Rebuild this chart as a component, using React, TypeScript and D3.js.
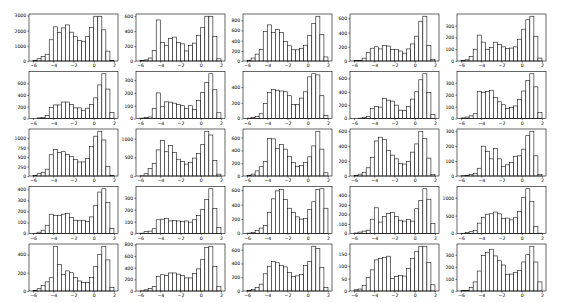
import { useEffect, useRef } from "react";
import * as d3 from "d3";

// histogram bins: 20 bins of width 0.4 starting at -6
const binStart = -6;
const binWidth = 0.4;
const xTicks = [-6, -4, -2, 0, 2];

// counts per panel, row by row
const row0 = [
  [30, 150, 300, 450, 1400, 2250, 1880, 2180, 2380, 1900, 1600, 1350, 1270, 1600, 2200, 2950, 2950, 2050, 650, 30],
  [5, 15, 40, 140, 550, 250, 205, 300, 320, 250, 230, 135, 210, 240, 345, 450, 600, 600, 330, 30],
  [15, 58, 135, 230, 580, 710, 560, 620, 560, 380, 300, 220, 220, 250, 310, 500, 740, 880, 520, 80],
  [5, 5, 40, 120, 180, 200, 170, 220, 210, 160, 160, 140, 110, 170, 240, 350, 560, 630, 220, 20],
  [5, 10, 40, 100, 220, 160, 100, 115, 160, 140, 120, 105, 110, 120, 185, 270, 350, 380, 210, 25],
];
const row1 = [
  [0, 10, 20, 50, 190, 230, 230, 280, 280, 240, 180, 180, 140, 175, 240, 350, 570, 760, 500, 100],
  [3, 8, 12, 80, 200, 92, 130, 128, 120, 110, 100, 80, 100, 72, 140, 205, 280, 350, 225, 45],
  [5, 15, 25, 60, 190, 330, 370, 360, 350, 340, 290, 180, 180, 260, 340, 530, 570, 555, 290, 40],
  [0, 5, 15, 30, 150, 180, 170, 300, 275, 260, 200, 125, 120, 180, 290, 400, 580, 670, 390, 60],
  [5, 12, 22, 40, 225, 218, 225, 235, 175, 140, 115, 85, 92, 105, 160, 230, 320, 375, 265, 50],
];
const row2 = [
  [10, 60, 100, 180, 560, 700, 620, 640, 570, 520, 440, 370, 370, 460, 780, 1050, 1180, 950, 250, 20],
  [5, 60, 200, 340, 700, 950, 650, 820, 630, 450, 390, 320, 360, 480, 600, 850, 1200, 1100, 420, 50],
  [5, 30, 80, 145, 225, 590, 580, 430, 490, 420, 305, 210, 150, 165, 210, 300, 470, 700, 420, 50],
  [5, 25, 50, 110, 250, 470, 520, 490, 340, 280, 230, 170, 160, 195, 320, 430, 600, 500, 240, 20],
  [2, 5, 10, 18, 52, 200, 165, 115, 185, 115, 65, 75, 92, 130, 135, 180, 270, 300, 135, 10],
];
const row3 = [
  [2, 12, 30, 75, 175, 165, 165, 175, 180, 145, 120, 115, 120, 110, 150, 255, 375, 405, 280, 45],
  [3, 15, 20, 40, 115, 120, 125, 105, 108, 105, 100, 105, 95, 115, 150, 200, 285, 375, 210, 50],
  [5, 15, 40, 75, 110, 290, 480, 590, 610, 470, 350, 290, 230, 200, 210, 330, 440, 610, 620, 350],
  [5, 15, 25, 35, 150, 270, 120, 180, 210, 220, 180, 140, 130, 145, 130, 260, 345, 470, 360, 105],
  [5, 25, 50, 90, 290, 450, 540, 550, 600, 550, 420, 430, 380, 440, 620, 1000, 1250, 900, 200, 10],
];
const row4 = [
  [5, 25, 60, 100, 145, 490, 290, 180, 220, 200, 150, 110, 92, 92, 150, 270, 400, 490, 340, 40],
  [3, 20, 40, 75, 250, 280, 270, 310, 310, 290, 270, 225, 225, 300, 380, 540, 750, 770, 420, 75],
  [5, 20, 50, 100, 250, 360, 430, 410, 370, 350, 270, 210, 220, 240, 370, 430, 650, 620, 340, 50],
  [5, 8, 22, 55, 85, 125, 130, 135, 140, 50, 58, 62, 60, 90, 130, 160, 180, 180, 115, 25],
  [3, 5, 30, 75, 165, 295, 320, 345, 290, 250, 215, 135, 140, 155, 170, 240, 300, 370, 240, 75],
];

// y tick spacing per panel
const yTickSteps = [
  1000, 200, 200, 200, 100,
  200, 100, 200, 200, 100,
  250, 500, 200, 200, 100,
  100, 100, 200, 100, 500,
  200, 200, 200, 50, 100,
];

const fmt = (d: number) => (d < 0 ? "\u2212" + Math.abs(d) : String(d));

const App = () => {
  const svgRef = useRef<SVGSVGElement>(null);

  useEffect(() => {
    const width = 576;
    const height = 303;
    const svg = d3.select(svgRef.current).attr("width", width).attr("height", height);
    svg.selectAll("*").remove();

    const panels = [row0, row1, row2, row3, row4].flat();
    const w = 89;
    const h = 47;

    panels.forEach((counts, i) => {
      const r = Math.floor(i / 5);
      const c = i % 5;
      const left = 29 + c * 107;
      const top = 14 + r * 57.5;

      const x = d3.scaleLinear().domain([-6.4, 2.4]).range([0, w]);
      const ymax = (d3.max(counts) as number) * 1.05;
      const y = d3.scaleLinear().domain([0, ymax]).range([h, 0]);

      const g = svg.append("g").attr("transform", `translate(${left},${top})`);

      g.selectAll("rect.bar")
        .data(counts)
        .join("rect")
        .attr("class", "bar")
        .attr("x", (_d, j) => x(binStart + j * binWidth))
        .attr("width", x(binWidth) - x(0))
        .attr("y", (d) => y(d))
        .attr("height", (d) => h - y(d))
        .attr("fill", "#fff")
        .attr("stroke", "#111")
        .attr("stroke-width", 0.6);

      const step = yTickSteps[i];
      const yTicks = d3.range(0, ymax + 1e-9, step);

      const xa = g
        .append("g")
        .attr("transform", `translate(0,${h})`)
        .call(d3.axisBottom(x).tickValues(xTicks).tickSize(1.6).tickPadding(1.2).tickFormat((d) => fmt(+d)));
      const ya = g
        .append("g")
        .call(d3.axisLeft(y).tickValues(yTicks).tickSize(1.6).tickPadding(1.2).tickFormat((d) => fmt(+d)));

      [xa, ya].forEach((a) => {
        a.select(".domain").remove();
        a.selectAll("line").attr("stroke", "#000").attr("stroke-width", 0.5);
        a.selectAll("text")
          .attr("fill", "#000")
          .style("font-family", "DejaVu Sans")
          .style("font-size", "4.6px");
      });

      g.append("rect")
        .attr("width", w)
        .attr("height", h)
        .attr("fill", "none")
        .attr("stroke", "#000")
        .attr("stroke-width", 0.6);
    });
  }, []);

  return (
    <div style={{ position: "absolute", left: 0, top: 0, background: "#fff" }}>
      <svg ref={svgRef}></svg>
    </div>
  );
};

export default App;
